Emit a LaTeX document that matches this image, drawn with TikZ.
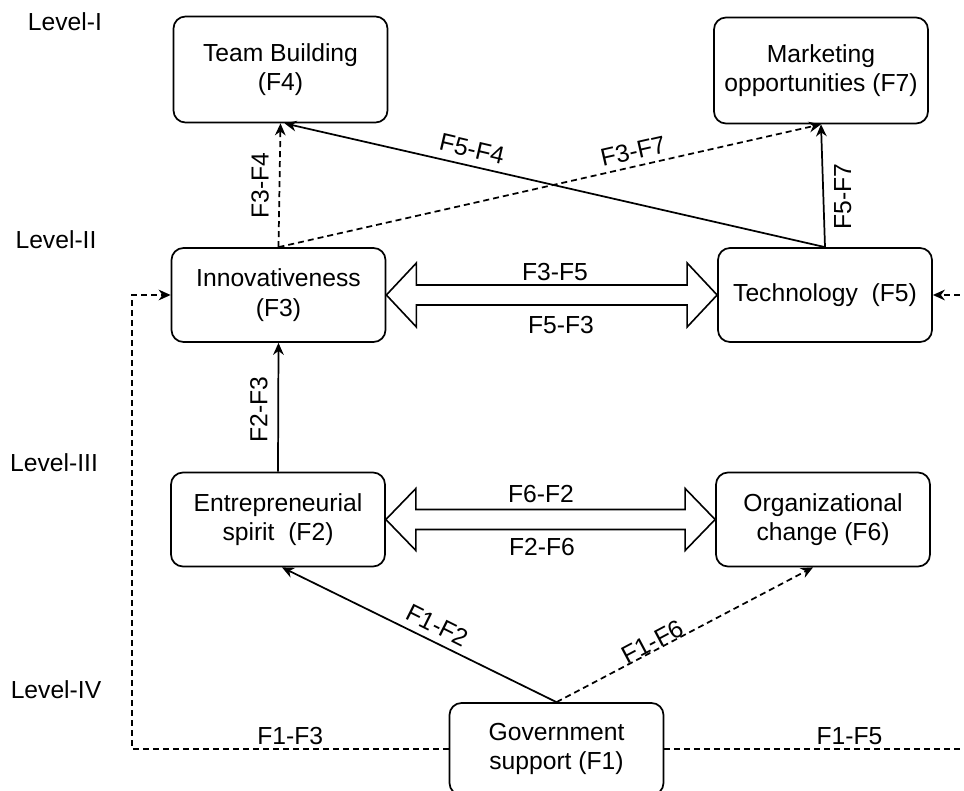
\documentclass[tikz,border=0pt]{standalone}
\usepackage{fontspec}
\setmainfont{Liberation Sans}
\usepackage{xcolor}
\usetikzlibrary{arrows.meta,calc}

\tikzset{
	factor/.style={draw, line width=1.3pt, rounded corners=9pt, align=center, minimum width=160.5pt, minimum height=70.5pt, inner sep=2pt},
	toprow/.style={factor, minimum height=79.5pt},
	link/.style={line width=1.3pt, -{Stealth[length=9pt,width=8pt]}},
	weaklink/.style={link, dash pattern=on 4.5pt off 3pt},
	twoway/.style={draw, line width=1.2pt, fill=white, line join=miter},
	lbl/.style={inner sep=1pt}
}

\begin{document}
\begin{tikzpicture}[x=0.75pt,y=0.75pt,yscale=-1,xscale=1,every node/.style={font=\fontsize{18.5}{22}\selectfont}]
		\useasboundingbox (0,0) rectangle (964,791);
		
		% Text Node
		\draw (65,22) node [anchor=center][inner sep=0.75pt] (lvlI) {Level-I};
		% Text Node
		\draw (56,240) node [anchor=center][inner sep=0.75pt] (lvlII) {Level-II};
		% Text Node
		\draw (54,463) node [anchor=center][inner sep=0.75pt] (lvlIII) {Level-III};
		% Text Node
		\draw (56,690) node [anchor=center][inner sep=0.75pt] (lvlIV) {Level-IV};
		
		%Shape: Rounded Rect [F4]
		\draw (280.5,69.5) node [toprow] (f4) {Team Building\\(F4)};
		%Shape: Rounded Rect [F7]
		\draw (821,70.5) node [toprow] (f7) {Marketing\\opportunities (F7)};
		%Shape: Rounded Rect [F3]
		\draw (278.5,295) node [factor] (f3) {Innovativeness\\(F3)};
		%Shape: Rounded Rect [F5]
		\draw (825,295) node [factor] (f5) {Technology\ \ (F5)};
		%Shape: Rounded Rect [F2]
		\draw (278,519.5) node [factor] (f2) {Entrepreneurial\\spirit\ \ (F2)};
		%Shape: Rounded Rect [F6]
		\draw (823,519.5) node [factor] (f6) {Organizational\\change (F6)};
		%Shape: Rounded Rect [F1]
		\draw (556.5,749) node [factor, minimum height=69pt] (f1) {Government\\support (F1)};
		
		\coordinate (leftrail) at (132,0);
		\coordinate (rightrail) at (995,0);
		
		%Straight Lines [F3-F4]
		\draw [weaklink] (f3.north) -- node [lbl, midway, anchor=south, outer sep=7pt, rotate=90] {F3-F4} (f4.south);
		%Straight Lines [F5-F4]
		\draw [link] (f5.north) -- node [lbl, pos=0.66, anchor=south, outer sep=5pt, rotate=-13.2] {F5-F4} ([xshift=3pt]f4.south);
		%Straight Lines [F3-F7]
		\draw [weaklink] (f3.north) -- node [lbl, pos=0.66, anchor=south, outer sep=4pt, rotate=12.9] {F3-F7} (f7.south);
		%Straight Lines [F5-F7]
		\draw [link] (f5.north) -- node [lbl, pos=0.41, anchor=north, outer sep=7pt, rotate=90] {F5-F7} (f7.south);
		%Straight Lines [F2-F3]
		\draw [link] (f2.north) -- node [lbl, pos=0.48, anchor=south, outer sep=7pt, rotate=90] {F2-F3} (f3.south);
		%Straight Lines [F1-F2]
		\draw [link] (f1.north) -- node [lbl, pos=0.46, anchor=south, outer sep=5pt, rotate=-26.5] {F1-F2} ([xshift=3pt]f2.south);
		%Straight Lines [F1-F6]
		\draw [weaklink] (f1.north) -- node [lbl, pos=0.39, anchor=south, outer sep=-1pt, rotate=27.9] {F1-F6} ([xshift=-7.5pt]f6.south);
		%Straight Lines [F1-F3]
		\draw [weaklink] (f1.west) -- node [lbl, pos=0.5, anchor=south, outer sep=2pt] {F1-F3} (f1.west -| leftrail) |- (f3.west);
		%Straight Lines [F1-F5]
		\draw [weaklink] (f1.east) -- node [lbl, pos=0.56, anchor=south, outer sep=2pt] {F1-F5} (f1.east -| rightrail) |- (f5.east);
		
		%Shape: Double Arrow [F3-F5]
		\draw [twoway] (f3.east) -- ++(30,-32) -- ++(0,22) -- ($(f5.west)+(-30,-10)$) -- ++(0,-22) -- (f5.west) -- ++(-30,32) -- ++(0,-22) -- ($(f3.east)+(30,10)$) -- ++(0,22) -- cycle;
		%Shape: Double Arrow [F2-F6]
		\draw [twoway] (f2.east) -- ++(30,-31) -- ++(0,21) -- ($(f6.west)+(-30,-10)$) -- ++(0,-21) -- (f6.west) -- ++(-30,31) -- ++(0,-21) -- ($(f2.east)+(30,10)$) -- ++(0,21) -- cycle;
		
		% Text Node
		\draw (555,272) node [lbl] (tF3F5) {F3-F5};
		% Text Node
		\draw (561,325) node [lbl] (tF5F3) {F5-F3};
		% Text Node
		\draw (541,494) node [lbl] (tF6F2) {F6-F2};
		% Text Node
		\draw (542,547) node [lbl] (tF2F6) {F2-F6};
		
\end{tikzpicture}
\end{document}
